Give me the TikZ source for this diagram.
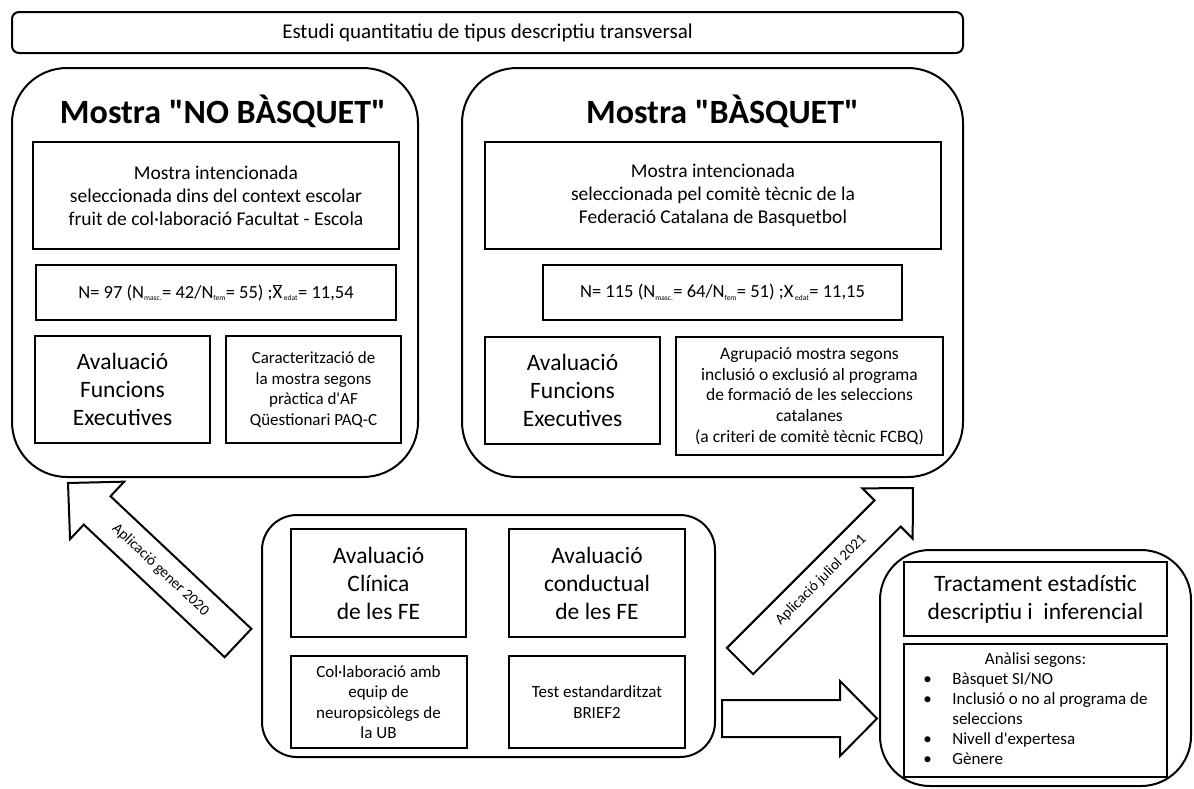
\documentclass[tikz,border=0pt]{standalone}
\usepackage{fontspec}
\setmainfont{Carlito}[Ligatures=TeXOff]
\usetikzlibrary{positioning,calc}

\newcommand{\smallsub}[1]{\textsubscript{\fontsize{7.5}{8}\selectfont #1}}

\begin{document}
\begin{tikzpicture}[x=1pt, y=-1pt,
    panel/.style={draw, line width=2pt, rounded corners=55pt},
    infobox/.style={draw, line width=2pt, align=center, inner sep=3pt},
    arrowshape/.style={draw, line width=2pt, line join=miter, fill=white},
    bigtxt/.style={font=\fontsize{23.5}{28}\selectfont},
    midtxt/.style={font=\fontsize{19.5}{23}\selectfont},
    smalltxt/.style={font=\fontsize{17}{20.5}\selectfont}]
    \useasboundingbox (0,0) rectangle (1194,788);

    % header
    \node[draw, line width=2pt, rounded corners=7pt, minimum width=951pt, minimum height=41pt, font=\fontsize{21}{25}\selectfont] (study) at (487.5,32.5) {Estudi quantitatiu de tipus descriptiu transversal};

    % mostra no basquet
    \node[panel, minimum width=406pt, minimum height=409pt] (nobasq) at (215,272.5) {};
    \node[anchor=base, font=\fontsize{34}{40}\selectfont\bfseries] (titnob) at (223,123) {Mostra "NO BÀSQUET"};
    \node[infobox, midtxt, minimum width=366pt, minimum height=107pt] (lmostra) at (216,195.5) {Mostra intencionada\\seleccionada dins del context escolar\\fruit de col·laboració Facultat - Escola};
    \node[infobox, font=\fontsize{18.5}{22}\selectfont, minimum width=360pt, minimum height=55pt, below=14pt of lmostra] (ln) {N= 97 (N\smallsub{masc.}= 42/N\smallsub{fem}= 55) ;$\overline{\mbox{X}}$\smallsub{ edat}= 11,54};
    \node[infobox, bigtxt, minimum width=175pt, minimum height=107pt] (lfe) at (122.5,389.5) {Avaluació\\Funcions\\Executives};
    \node[infobox, smalltxt, minimum width=175pt, minimum height=107pt, right=14pt of lfe] (lpaq) {Caracterització de\\la mostra segons\\pràctica d'AF\\Qüestionari PAQ-C};

    % mostra basquet
    \node[panel, minimum width=501pt, minimum height=409pt] (basq) at (712.5,272.5) {};
    \node[anchor=base, font=\fontsize{34}{40}\selectfont\bfseries] (titbasq) at (722.5,123) {Mostra "BÀSQUET"};
    \node[infobox, midtxt, minimum width=456pt, minimum height=107pt] (rmostra) at (713,195.5) {Mostra intencionada\\seleccionada pel comitè tècnic de la\\Federació Catalana de Basquetbol};
    \node[infobox, font=\fontsize{18.5}{22}\selectfont, minimum width=359pt, minimum height=55pt, below=14pt of rmostra, xshift=9.5pt] (rn) {N= 115 (N\smallsub{masc.}= 64/N\smallsub{fem}= 51) ;X\smallsub{ edat}= 11,15};
    \node[infobox, bigtxt, minimum width=175pt, minimum height=107pt] (rfe) at (572.5,390.5) {Avaluació\\Funcions\\Executives};
    \node[infobox, font=\fontsize{17.5}{20.6}\selectfont, minimum width=267pt, minimum height=118pt, right=14pt of rfe.north east, anchor=north west] (rgrup) {Agrupació mostra segons\\inclusió o exclusió al programa\\de formació de les seleccions\\catalanes\\(a criteri de comitè tècnic FCBQ)};

    % avaluacio FE
    \node[panel, rounded corners=35pt, minimum width=453pt, minimum height=242pt] (fe) at (488.5,636) {};
    \node[infobox, bigtxt, minimum width=175pt, minimum height=108pt] (clin) at (378.5,583) {Avaluació\\Clínica\\de les FE};
    \node[infobox, bigtxt, minimum width=176pt, minimum height=108pt, right=41pt of clin] (cond) {Avaluació\\conductual\\de les FE};
    \node[infobox, smalltxt, minimum width=176pt, minimum height=92pt, below=17pt of clin] (ub) {Col·laboració amb\\equip de\\neuropsicòlegs de\\la UB};
    \node[infobox, smalltxt, minimum width=176pt, minimum height=92pt, below=17pt of cond] (brief) {Test estandarditzat\\BRIEF2};

    % tractament
    \node[panel, rounded corners=50pt, minimum width=311pt, minimum height=236pt] (stat) at (1035.5,668) {};
    \node[infobox, bigtxt, minimum width=263pt, minimum height=74pt] (tract) at (1035.5,599) {Tractament estadístic\\descriptiu i~ inferencial};
    \node[infobox, minimum width=263pt, minimum height=133pt, below=6pt of tract, font=\fontsize{17}{20}\selectfont] (anal) {%
      \begin{tabular}{@{}p{29pt}@{}l@{}}
        \multicolumn{2}{c}{Anàlisi segons:}\\
        \textbullet & Bàsquet SI/NO\\
        \textbullet & Inclusió o no al programa de\\
                    & seleccions\\
        \textbullet & Nivell d'expertesa\\
        \textbullet & Gènere
      \end{tabular}};

    % big arrows
    \coordinate (gtail) at (238,643);
    \coordinate (gtip) at (68,483);
    \coordinate (ghead) at ($(gtip)!40pt!(gtail)$);
    \draw[arrowshape] ($(gtail)!19.5pt!90:(gtip)$) -- ($(ghead)!19.5pt!-90:(gtail)$) -- ($(ghead)!39.5pt!-90:(gtail)$) -- (gtip) -- ($(ghead)!39.5pt!90:(gtail)$) -- ($(ghead)!19.5pt!90:(gtail)$) -- ($(gtail)!19.5pt!-90:(gtip)$) -- cycle;
    \node[rotate=-43.3, font=\fontsize{15}{18}\selectfont] (gener) at ($(gtail)!0.55!(ghead)$) {Aplicació gener 2020};

    \coordinate (jtail) at (740,661);
    \coordinate (jtip) at (913,488);
    \coordinate (jhead) at ($(jtip)!36pt!(jtail)$);
    \draw[arrowshape] ($(jtail)!18.5pt!90:(jtip)$) -- ($(jhead)!18.5pt!-90:(jtail)$) -- ($(jhead)!35.5pt!-90:(jtail)$) -- (jtip) -- ($(jhead)!35.5pt!90:(jtail)$) -- ($(jhead)!18.5pt!90:(jtail)$) -- ($(jtail)!18.5pt!-90:(jtip)$) -- cycle;
    \node[rotate=45, font=\fontsize{15}{18}\selectfont] (juliol) at ($(jtail)!0.55!(jhead)$) {Aplicació juliol 2021};

    \coordinate (btail) at (722,718.5);
    \coordinate (btip) at (877,718.5);
    \coordinate (bhead) at ($(btip)!37pt!(btail)$);
    \draw[arrowshape] ($(btail)!18.5pt!90:(btip)$) -- ($(bhead)!18.5pt!-90:(btail)$) -- ($(bhead)!37.5pt!-90:(btail)$) -- (btip) -- ($(bhead)!37.5pt!90:(btail)$) -- ($(bhead)!18.5pt!90:(btail)$) -- ($(btail)!18.5pt!-90:(btip)$) -- cycle;
\end{tikzpicture}
\end{document}
